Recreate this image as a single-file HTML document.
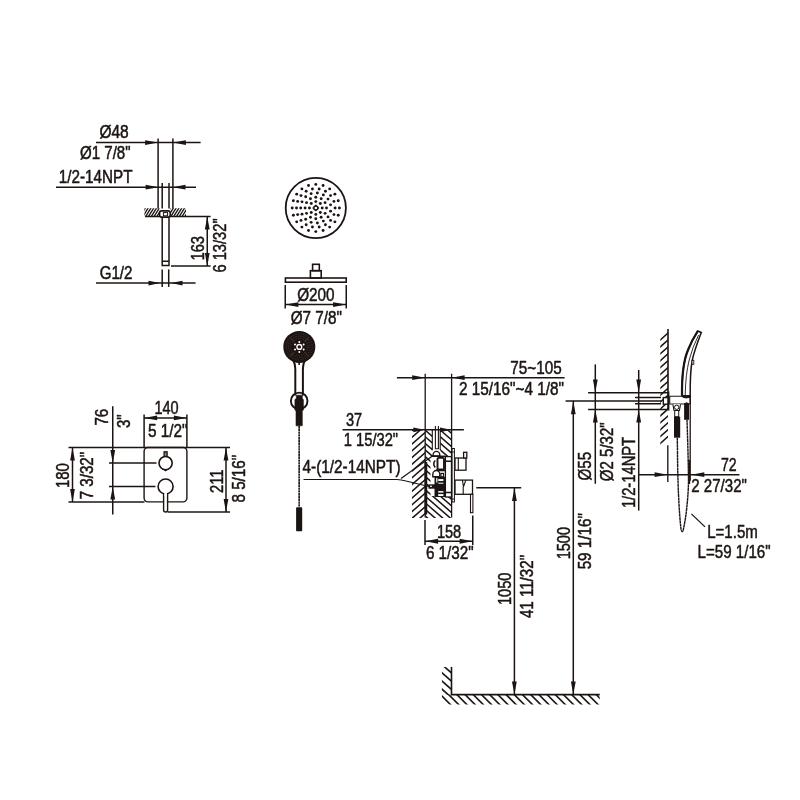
<!DOCTYPE html>
<html lang="en">
<head>
<meta charset="utf-8">
<title>Shower system dimensions</title>
<style>
html,body{margin:0;padding:0;background:#fff;}
body{width:800px;height:800px;overflow:hidden;}
svg{display:block;will-change:transform;opacity:0.999;}
svg text{font-family:"Liberation Sans","DejaVu Sans",sans-serif;fill:#1c1412;stroke:#1c1412;stroke-width:0.5px;stroke-linejoin:round;}
svg .ar,svg .dot{fill:#1c1412;stroke:none;}
svg .dk{fill:#1c1412;stroke:none;}
</style>
</head>
<body>
<svg width="800" height="800" viewBox="0 0 800 800">
<rect x="0" y="0" width="800" height="800" fill="#fff"/>
<g stroke="#1c1412" fill="none">
<line x1="158.10" y1="138.50" x2="158.10" y2="208.50" stroke-width="1.5" />
<line x1="172.90" y1="138.50" x2="172.90" y2="208.50" stroke-width="1.5" />
<line x1="96.00" y1="142.60" x2="200.60" y2="142.60" stroke-width="1.5" />
<polygon class="ar" points="158.10,142.60 145.10,145.00 145.10,140.20"/>
<polygon class="ar" points="172.90,142.60 185.90,140.20 185.90,145.00"/>
<text x="99.40" y="138.10" font-size="17.6" textLength="29.30" lengthAdjust="spacingAndGlyphs">Ø48</text>
<text x="80.00" y="158.75" font-size="17.6" textLength="50.60" lengthAdjust="spacingAndGlyphs">Ø1 7/8&quot;</text>
<text x="58.80" y="183.10" font-size="17.6" textLength="73.70" lengthAdjust="spacingAndGlyphs">1/2-14NPT</text>
<line x1="56.00" y1="187.20" x2="196.00" y2="187.20" stroke-width="1.5" />
<polygon class="ar" points="158.60,187.20 145.60,189.60 145.60,184.80"/>
<polygon class="ar" points="172.50,187.20 185.50,184.80 185.50,189.60"/>
<line x1="162.20" y1="183.00" x2="162.20" y2="208.50" stroke-width="1.5" />
<line x1="169.00" y1="183.00" x2="169.00" y2="208.50" stroke-width="1.5" />
<clipPath id="c1"><rect x="144.40" y="208.20" width="15.20" height="8.40"/></clipPath>
<g clip-path="url(#c1)" stroke-width="1.35">
<path d="M142.90 203.00L161.10 173.88M142.90 207.48L161.10 178.36M142.90 211.96L161.10 182.84M142.90 216.44L161.10 187.32M142.90 220.92L161.10 191.80M142.90 225.40L161.10 196.28M142.90 229.88L161.10 200.76M142.90 234.36L161.10 205.24M142.90 238.84L161.10 209.72M142.90 243.32L161.10 214.20M142.90 247.80L161.10 218.68M142.90 252.28L161.10 223.16"/>
</g>
<clipPath id="c2"><rect x="170.40" y="208.20" width="15.60" height="8.40"/></clipPath>
<g clip-path="url(#c2)" stroke-width="1.35">
<path d="M168.90 201.72L187.50 171.96M168.90 206.20L187.50 176.44M168.90 210.68L187.50 180.92M168.90 215.16L187.50 185.40M168.90 219.64L187.50 189.88M168.90 224.12L187.50 194.36M168.90 228.60L187.50 198.84M168.90 233.08L187.50 203.32M168.90 237.56L187.50 207.80M168.90 242.04L187.50 212.28M168.90 246.52L187.50 216.76M168.90 251.00L187.50 221.24"/>
</g>
<line x1="145.00" y1="216.50" x2="210.60" y2="216.50" stroke-width="1.5" />
<rect x="159.6" y="210.9" width="10.6" height="6.2" rx="2" stroke-width="1.6" fill="#fff"/>
<rect x="163.4" y="212.6" width="4.2" height="3.2" stroke-width="1.0" fill="#fff"/>
<path d="M162.2 217 V265.6 H169 V217" stroke-width="1.5" fill="none" />
<line x1="162.20" y1="261.25" x2="169.00" y2="261.25" stroke-width="1.5" />
<line x1="171.00" y1="265.90" x2="210.60" y2="265.90" stroke-width="1.5" />
<line x1="207.25" y1="216.50" x2="207.25" y2="265.90" stroke-width="1.5" />
<polygon class="ar" points="207.25,216.50 209.65,229.50 204.85,229.50"/>
<polygon class="ar" points="207.25,265.90 204.85,252.90 209.65,252.90"/>
<text transform="translate(203.85,260.60) rotate(-90)" x="0" y="0" font-size="18.200000000000003" textLength="24.70" lengthAdjust="spacingAndGlyphs">163</text>
<text transform="translate(225.70,272.50) rotate(-90)" x="0" y="0" font-size="18.200000000000003" textLength="54.10" lengthAdjust="spacingAndGlyphs">6 13/32&quot;</text>
<text x="99.65" y="279.00" font-size="17.6" textLength="32.85" lengthAdjust="spacingAndGlyphs">G1/2</text>
<line x1="96.00" y1="283.10" x2="195.60" y2="283.10" stroke-width="1.5" />
<polygon class="ar" points="160.00,283.10 148.50,285.50 148.50,280.70"/>
<polygon class="ar" points="171.00,283.10 182.50,280.70 182.50,285.50"/>
<line x1="162.20" y1="269.40" x2="162.20" y2="286.90" stroke-width="1.5" />
<line x1="168.70" y1="269.40" x2="168.70" y2="286.90" stroke-width="1.5" />
<line x1="68.50" y1="447.50" x2="230.00" y2="447.50" stroke-width="1.5" />
<line x1="68.50" y1="501.90" x2="144.50" y2="501.90" stroke-width="1.5" />
<rect x="144.1" y="447.5" width="42.8" height="54.4" rx="3.8" stroke-width="1.4"/>
<line x1="72.50" y1="447.50" x2="72.50" y2="501.90" stroke-width="1.5" />
<polygon class="ar" points="72.50,447.50 74.90,460.50 70.10,460.50"/>
<polygon class="ar" points="72.50,501.90 70.10,488.90 74.90,488.90"/>
<text transform="translate(68.60,488.10) rotate(-90)" x="0" y="0" font-size="18.200000000000003" textLength="24.95" lengthAdjust="spacingAndGlyphs">180</text>
<text transform="translate(93.10,499.35) rotate(-90)" x="0" y="0" font-size="18.200000000000003" textLength="47.45" lengthAdjust="spacingAndGlyphs">7 3/32&quot;</text>
<line x1="112.75" y1="406.25" x2="112.75" y2="514.40" stroke-width="1.5" />
<polygon class="ar" points="112.75,463.10 110.35,450.10 115.15,450.10"/>
<polygon class="ar" points="112.75,486.50 115.15,499.50 110.35,499.50"/>
<line x1="109.00" y1="463.10" x2="156.50" y2="463.10" stroke-width="1.5" />
<line x1="109.00" y1="486.50" x2="155.50" y2="486.50" stroke-width="1.5" />
<text transform="translate(108.20,425.60) rotate(-90)" x="0" y="0" font-size="18.200000000000003" textLength="16.80" lengthAdjust="spacingAndGlyphs">76</text>
<text transform="translate(129.50,428.10) rotate(-90)" x="0" y="0" font-size="18.200000000000003" textLength="13.70" lengthAdjust="spacingAndGlyphs">3&quot;</text>
<line x1="144.10" y1="414.40" x2="144.10" y2="447.50" stroke-width="1.5" />
<line x1="186.90" y1="414.40" x2="186.90" y2="447.50" stroke-width="1.5" />
<line x1="144.10" y1="417.90" x2="186.90" y2="417.90" stroke-width="1.5" />
<polygon class="ar" points="144.10,417.90 157.10,415.50 157.10,420.30"/>
<polygon class="ar" points="186.90,417.90 173.90,420.30 173.90,415.50"/>
<text x="154.40" y="413.75" font-size="17.6" textLength="24.20" lengthAdjust="spacingAndGlyphs">140</text>
<text x="147.90" y="436.50" font-size="17.6" textLength="39.70" lengthAdjust="spacingAndGlyphs">5 1/2&quot;</text>
<line x1="226.00" y1="447.50" x2="226.00" y2="511.90" stroke-width="1.5" />
<polygon class="ar" points="226.00,447.50 228.40,460.50 223.60,460.50"/>
<polygon class="ar" points="226.00,511.90 223.60,498.90 228.40,498.90"/>
<line x1="167.50" y1="511.90" x2="230.00" y2="511.90" stroke-width="1.5" />
<text transform="translate(223.20,493.10) rotate(-90)" x="0" y="0" font-size="18.200000000000003" textLength="23.70" lengthAdjust="spacingAndGlyphs">211</text>
<text transform="translate(244.90,502.50) rotate(-90)" x="0" y="0" font-size="18.200000000000003" textLength="47.60" lengthAdjust="spacingAndGlyphs">8 5/16&quot;</text>
<rect x="164.1" y="451.8" width="3" height="5.6" stroke-width="1.3" fill="#8a807d"/>
<path d="M163.2 468.8 L165.6 470.8 L168 468.8 Z" stroke-width="1.1" fill="#1c1412" />
<circle cx="165.6" cy="463.1" r="6.6" stroke-width="1.6" fill="#fff"/>
<path d="M163.6 493 V510 A2 2 0 0 0 167.6 510 V493" stroke-width="1.4" fill="#fff" />
<circle cx="165.6" cy="486.5" r="7.5" stroke-width="1.6" fill="#fff"/>
<rect x="164.3" y="492.6" width="2.6" height="3" stroke="none" fill="#fff"/>
<circle cx="315.8" cy="208.0" r="30.1" stroke-width="1.8"/>
<circle class="dot" cx="309.40" cy="208.00" r="1.45"/>
<circle class="dot" cx="311.27" cy="203.47" r="1.45"/>
<circle class="dot" cx="315.80" cy="201.60" r="1.45"/>
<circle class="dot" cx="320.33" cy="203.47" r="1.45"/>
<circle class="dot" cx="322.20" cy="208.00" r="1.45"/>
<circle class="dot" cx="320.33" cy="212.53" r="1.45"/>
<circle class="dot" cx="315.80" cy="214.40" r="1.45"/>
<circle class="dot" cx="311.27" cy="212.53" r="1.45"/>
<circle class="dot" cx="305.10" cy="208.00" r="1.45"/>
<circle class="dot" cx="306.53" cy="202.65" r="1.45"/>
<circle class="dot" cx="310.45" cy="198.73" r="1.45"/>
<circle class="dot" cx="315.80" cy="197.30" r="1.45"/>
<circle class="dot" cx="321.15" cy="198.73" r="1.45"/>
<circle class="dot" cx="325.07" cy="202.65" r="1.45"/>
<circle class="dot" cx="326.50" cy="208.00" r="1.45"/>
<circle class="dot" cx="325.07" cy="213.35" r="1.45"/>
<circle class="dot" cx="321.15" cy="217.27" r="1.45"/>
<circle class="dot" cx="315.80" cy="218.70" r="1.45"/>
<circle class="dot" cx="310.45" cy="217.27" r="1.45"/>
<circle class="dot" cx="306.53" cy="213.35" r="1.45"/>
<circle class="dot" cx="300.70" cy="208.00" r="1.45"/>
<circle class="dot" cx="302.01" cy="201.86" r="1.45"/>
<circle class="dot" cx="305.70" cy="196.78" r="1.45"/>
<circle class="dot" cx="311.13" cy="193.64" r="1.45"/>
<circle class="dot" cx="317.38" cy="192.98" r="1.45"/>
<circle class="dot" cx="323.35" cy="194.92" r="1.45"/>
<circle class="dot" cx="328.02" cy="199.12" r="1.45"/>
<circle class="dot" cx="330.57" cy="204.86" r="1.45"/>
<circle class="dot" cx="330.57" cy="211.14" r="1.45"/>
<circle class="dot" cx="328.02" cy="216.88" r="1.45"/>
<circle class="dot" cx="323.35" cy="221.08" r="1.45"/>
<circle class="dot" cx="317.38" cy="223.02" r="1.45"/>
<circle class="dot" cx="311.13" cy="222.36" r="1.45"/>
<circle class="dot" cx="305.70" cy="219.22" r="1.45"/>
<circle class="dot" cx="302.01" cy="214.14" r="1.45"/>
<circle class="dot" cx="296.50" cy="208.00" r="1.45"/>
<circle class="dot" cx="297.66" cy="201.40" r="1.45"/>
<circle class="dot" cx="301.02" cy="195.59" r="1.45"/>
<circle class="dot" cx="306.15" cy="191.29" r="1.45"/>
<circle class="dot" cx="312.45" cy="188.99" r="1.45"/>
<circle class="dot" cx="319.15" cy="188.99" r="1.45"/>
<circle class="dot" cx="325.45" cy="191.29" r="1.45"/>
<circle class="dot" cx="330.58" cy="195.59" r="1.45"/>
<circle class="dot" cx="333.94" cy="201.40" r="1.45"/>
<circle class="dot" cx="335.10" cy="208.00" r="1.45"/>
<circle class="dot" cx="333.94" cy="214.60" r="1.45"/>
<circle class="dot" cx="330.58" cy="220.41" r="1.45"/>
<circle class="dot" cx="325.45" cy="224.71" r="1.45"/>
<circle class="dot" cx="319.15" cy="227.01" r="1.45"/>
<circle class="dot" cx="312.45" cy="227.01" r="1.45"/>
<circle class="dot" cx="306.15" cy="224.71" r="1.45"/>
<circle class="dot" cx="301.02" cy="220.41" r="1.45"/>
<circle class="dot" cx="297.66" cy="214.60" r="1.45"/>
<circle class="dot" cx="292.20" cy="208.00" r="1.45"/>
<circle class="dot" cx="293.36" cy="200.71" r="1.45"/>
<circle class="dot" cx="296.71" cy="194.13" r="1.45"/>
<circle class="dot" cx="301.93" cy="188.91" r="1.45"/>
<circle class="dot" cx="308.51" cy="185.56" r="1.45"/>
<circle class="dot" cx="315.80" cy="184.40" r="1.45"/>
<circle class="dot" cx="323.09" cy="185.56" r="1.45"/>
<circle class="dot" cx="329.67" cy="188.91" r="1.45"/>
<circle class="dot" cx="334.89" cy="194.13" r="1.45"/>
<circle class="dot" cx="338.24" cy="200.71" r="1.45"/>
<circle class="dot" cx="339.40" cy="208.00" r="1.45"/>
<circle class="dot" cx="338.24" cy="215.29" r="1.45"/>
<circle class="dot" cx="334.89" cy="221.87" r="1.45"/>
<circle class="dot" cx="329.67" cy="227.09" r="1.45"/>
<circle class="dot" cx="323.09" cy="230.44" r="1.45"/>
<circle class="dot" cx="315.80" cy="231.60" r="1.45"/>
<circle class="dot" cx="308.51" cy="230.44" r="1.45"/>
<circle class="dot" cx="301.93" cy="227.09" r="1.45"/>
<circle class="dot" cx="296.71" cy="221.87" r="1.45"/>
<circle class="dot" cx="293.36" cy="215.29" r="1.45"/>
<circle cx="315.8" cy="208.0" r="2.0" stroke-width="1.5"/>
<circle class="dot" cx="318.40" cy="208.00" r="0.8"/>
<circle class="dot" cx="315.80" cy="210.60" r="0.8"/>
<circle class="dot" cx="313.20" cy="208.00" r="0.8"/>
<circle class="dot" cx="315.80" cy="205.40" r="0.8"/>
<rect x="285.4" y="278" width="60.8" height="4.2" stroke-width="1.6"/>
<rect x="310.4" y="270.7" width="10.8" height="7.3" stroke-width="1.6"/>
<rect x="312.6" y="264.3" width="6.7" height="6.4" stroke-width="1.6"/>
<line x1="285.25" y1="285.00" x2="285.25" y2="308.50" stroke-width="1.5" />
<line x1="346.25" y1="285.00" x2="346.25" y2="308.50" stroke-width="1.5" />
<line x1="285.25" y1="304.60" x2="346.25" y2="304.60" stroke-width="1.5" />
<polygon class="ar" points="285.40,304.60 298.40,302.20 298.40,307.00"/>
<polygon class="ar" points="346.10,304.60 333.10,307.00 333.10,302.20"/>
<text x="297.15" y="300.60" font-size="17.6" textLength="37.45" lengthAdjust="spacingAndGlyphs">Ø200</text>
<text x="290.65" y="323.75" font-size="17.6" textLength="51.20" lengthAdjust="spacingAndGlyphs">Ø7 7/8&quot;</text>
<path d="M293.2 360.5 Q295.3 363.5 295.3 369 V395.5 M305 360.5 Q302.9 363.5 302.9 369 V395.5" stroke-width="2.0" fill="none" />
<circle class="dk" cx="299.3" cy="346.9" r="16.0"/>
<line x1="304.60" y1="352.20" x2="308.85" y2="356.45" stroke="#5d4e4a" stroke-width="0.7"/>
<line x1="294.00" y1="352.20" x2="289.75" y2="356.45" stroke="#5d4e4a" stroke-width="0.7"/>
<line x1="294.00" y1="341.60" x2="289.75" y2="337.35" stroke="#5d4e4a" stroke-width="0.7"/>
<line x1="304.60" y1="341.60" x2="308.85" y2="337.35" stroke="#5d4e4a" stroke-width="0.7"/>
<circle cx="299.3" cy="346.9" r="8.6" stroke="#54443f" stroke-width="0.7" stroke-dasharray="1.2 1.4"/>
<circle cx="299.3" cy="346.9" r="10.8" stroke="#54443f" stroke-width="0.7" stroke-dasharray="1.2 1.4"/>
<circle cx="299.3" cy="346.9" r="13.0" stroke="#54443f" stroke-width="0.7" stroke-dasharray="1.2 1.4"/>
<circle cx="299.3" cy="346.9" r="2.4" fill="#1c1412" stroke="#fff" stroke-width="1.4"/>
<circle cx="299.30" cy="351.90" r="1.0" fill="#fff" stroke="none"/>
<circle cx="294.97" cy="349.40" r="1.0" fill="#fff" stroke="none"/>
<circle cx="294.97" cy="344.40" r="1.0" fill="#fff" stroke="none"/>
<circle cx="299.30" cy="341.90" r="1.0" fill="#fff" stroke="none"/>
<circle cx="303.63" cy="344.40" r="1.0" fill="#fff" stroke="none"/>
<circle cx="303.63" cy="349.40" r="1.0" fill="#fff" stroke="none"/>
<rect class="dk" x="298.3" y="362.6" width="1.6" height="2.4"/>
<circle cx="299.2" cy="400.9" r="8.3" stroke-width="1.9"/>
<path d="M296.3 395.2 H302.3 V398.6 L303.4 399.6 V409.8 L302.3 411.3 V425.8 H296 V411.3 L294.9 409.8 V399.6 L296.3 398.6 Z" stroke-width="0.6" fill="#1c1412" />
<line x1="299.15" y1="425.8" x2="299.15" y2="507.2" stroke-width="1.6" stroke-dasharray="2.4 0.4" />
<rect class="dk" x="296.1" y="507.2" width="6.1" height="24" rx="0.8"/>
<line x1="425.20" y1="373.75" x2="425.20" y2="517.50" stroke-width="1.3" />
<line x1="451.60" y1="373.75" x2="451.60" y2="517.50" stroke-width="1.3" />
<line x1="396.90" y1="377.70" x2="564.60" y2="377.70" stroke-width="1.5" />
<polygon class="ar" points="425.20,377.70 412.20,380.10 412.20,375.30"/>
<polygon class="ar" points="451.60,377.70 464.60,375.30 464.60,380.10"/>
<text x="510.30" y="373.60" font-size="17.6" textLength="51.40" lengthAdjust="spacingAndGlyphs">75~105</text>
<text x="459.00" y="394.60" font-size="17.6" textLength="105.00" lengthAdjust="spacingAndGlyphs">2 15/16&quot;~4 1/8&quot;</text>
<line x1="342.50" y1="429.80" x2="463.90" y2="429.80" stroke-width="1.5" />
<polygon class="ar" points="424.30,429.80 413.30,432.20 413.30,427.40"/>
<polygon class="ar" points="451.00,429.80 440.00,432.20 440.00,427.40"/>
<text x="345.90" y="426.00" font-size="17.6" textLength="16.20" lengthAdjust="spacingAndGlyphs">37</text>
<text x="343.80" y="445.60" font-size="17.6" textLength="54.30" lengthAdjust="spacingAndGlyphs">1 15/32&quot;</text>
<text x="302.50" y="473.10" font-size="17.6" textLength="98.10" lengthAdjust="spacingAndGlyphs">4-(1/2-14NPT)</text>
<path d="M303.5 479.5 H397 Q401 479.6 406 481 L433 487.5" stroke-width="1.2" fill="none" />
<path d="M401 478.6 L433.5 455.3" stroke-width="1.2" fill="none" />
<clipPath id="c3"><rect x="412.00" y="430.00" width="13.20" height="88.00"/></clipPath>
<g clip-path="url(#c3)" stroke-width="1.5">
<path d="M410.50 418.44L426.70 404.18M410.50 425.19L426.70 410.93M410.50 431.94L426.70 417.68M410.50 438.69L426.70 424.43M410.50 445.44L426.70 431.18M410.50 452.19L426.70 437.93M410.50 458.94L426.70 444.68M410.50 465.69L426.70 451.43M410.50 472.44L426.70 458.18M410.50 479.19L426.70 464.93M410.50 485.94L426.70 471.68M410.50 492.69L426.70 478.43M410.50 499.44L426.70 485.18M410.50 506.19L426.70 491.93M410.50 512.94L426.70 498.68M410.50 519.69L426.70 505.43M410.50 526.44L426.70 512.18M410.50 533.19L426.70 518.93M410.50 539.94L426.70 525.68"/>
</g>
<clipPath id="c4"><rect x="425.20" y="430.00" width="7.10" height="26.00"/></clipPath>
<g clip-path="url(#c4)" stroke-width="1.5">
<path d="M423.70 409.09L433.80 417.88M423.70 415.69L433.80 424.48M423.70 422.29L433.80 431.08M423.70 428.89L433.80 437.68M423.70 435.50L433.80 444.28M423.70 442.09L433.80 450.88M423.70 448.69L433.80 457.48M423.70 455.29L433.80 464.08M423.70 461.89L433.80 470.68M423.70 468.50L433.80 477.28"/>
</g>
<clipPath id="c5"><rect x="440.20" y="430.00" width="11.40" height="27.00"/></clipPath>
<g clip-path="url(#c5)" stroke-width="1.5">
<path d="M438.70 408.94L453.10 421.47M438.70 415.55L453.10 428.07M438.70 422.14L453.10 434.67M438.70 428.75L453.10 441.27M438.70 435.35L453.10 447.87M438.70 441.94L453.10 454.47M438.70 448.55L453.10 461.07M438.70 455.14L453.10 467.67M438.70 461.75L453.10 474.27M438.70 468.35L453.10 480.87"/>
</g>
<clipPath id="c6"><rect x="425.20" y="496.00" width="26.40" height="22.00"/></clipPath>
<g clip-path="url(#c6)" stroke-width="1.5">
<path d="M423.70 461.89L453.10 487.47M423.70 468.50L453.10 494.07M423.70 475.09L453.10 500.67M423.70 481.69L453.10 507.27M423.70 488.29L453.10 513.87M423.70 494.89L453.10 520.47M423.70 501.50L453.10 527.07M423.70 508.09L453.10 533.67M423.70 514.69L453.10 540.27M423.70 521.29L453.10 546.87M423.70 527.89L453.10 553.47"/>
</g>
<clipPath id="c7"><rect x="425.20" y="456.00" width="5.30" height="40.00"/></clipPath>
<g clip-path="url(#c7)" stroke-width="1.5">
<path d="M423.70 442.09L432.00 449.32M423.70 448.69L432.00 455.92M423.70 455.29L432.00 462.52M423.70 461.89L432.00 469.12M423.70 468.50L432.00 475.72M423.70 475.09L432.00 482.32M423.70 481.69L432.00 488.92M423.70 488.29L432.00 495.52M423.70 494.89L432.00 502.12M423.70 501.50L432.00 508.72M423.70 508.09L432.00 515.32"/>
</g>
<path d="M432.3 430 V450 M440.2 430 V450 M435.4 426 V448.7 H438.4 V426" stroke-width="1.1" fill="none" />
<g stroke-width="1.3">
<rect x="445.4" y="456.6" width="6.1" height="40.4" fill="#fff"/>
<path d="M445.4 461.3 H451.4 M445.4 492.5 H451.4" stroke-width="1.5" fill="none" />
<path d="M433.1 456 V455 A3.35 3.6 0 0 1 439.8 455 V456 Z" stroke-width="1.3" fill="#fff" />
<path d="M431 456.3 H445.4" stroke-width="1.5" fill="none" />
<path d="M435.2 460.6 Q432.2 464 435.2 467.4" stroke-width="1.5" fill="none" />
<rect x="437.5" y="457.9" width="6.5" height="11.6" rx="1.2" fill="#fff" stroke-width="1.9"/>
<rect class="dk" x="434.5" y="476.8" width="10.9" height="20.2"/>
<rect class="dk" x="436" y="469.3" width="9" height="2"/>
<path d="M432.8 476.8 V474.5 A3.5 4 0 0 1 439.8 474.5 V476.8 Z" stroke-width="1.4" fill="#fff" />
<rect x="440.9" y="473.4" width="2.6" height="3.4" fill="#fff" stroke-width="1.2"/>
<rect class="dk" x="428.5" y="484.3" width="9" height="4.4"/>
<rect x="430.2" y="485.6" width="1.6" height="1.4" fill="#fff" stroke="none"/>
<rect x="438.2" y="479.1" width="5.2" height="1.9" fill="#fff" stroke="none"/>
<rect x="438.2" y="482.7" width="5.2" height="1.0" fill="#fff" stroke="none"/>
<rect x="438.2" y="491.1" width="5.2" height="1.5" fill="#fff" stroke="none"/>
<rect x="438.2" y="494.1" width="5.2" height="1.9" fill="#fff" stroke="none"/>
<rect x="436.2" y="478" width="1.2" height="4.5" fill="#fff" stroke="none"/>
</g>
<line x1="425.90" y1="462.00" x2="425.90" y2="514.50" stroke-width="2.7" />
<rect x="452.1" y="448.5" width="2.3" height="53.5" stroke-width="1.0" fill="#fff"/>
<path d="M452.1 452 H454.4 M452.1 499 H454.4" stroke-width="0.9" fill="none" />
<rect x="455" y="458" width="11" height="12.2" stroke-width="1.3" fill="#fff"/>
<line x1="458.30" y1="458.00" x2="458.30" y2="470.20" stroke-width="1.1" />
<rect x="463.6" y="452.3" width="3.2" height="5.7" stroke-width="1.3" fill="#fff"/>
<rect x="455" y="480.1" width="17.5" height="14.2" stroke-width="1.3" fill="#fff"/>
<path d="M462.4 480.1 L463.5 486.8 L465.8 480.1 M463.2 486.8 V494.3" stroke-width="1.1" fill="none" />
<rect x="470.5" y="494.3" width="2.4" height="18.4" stroke-width="1.1" fill="#fff"/>
<line x1="425.00" y1="520.00" x2="425.00" y2="545.00" stroke-width="1.5" />
<line x1="472.75" y1="515.60" x2="472.75" y2="545.00" stroke-width="1.5" />
<line x1="425.00" y1="541.25" x2="472.75" y2="541.25" stroke-width="1.5" />
<polygon class="ar" points="425.10,541.25 438.10,538.85 438.10,543.65"/>
<polygon class="ar" points="472.60,541.25 459.60,543.65 459.60,538.85"/>
<text x="436.90" y="537.50" font-size="17.6" textLength="24.30" lengthAdjust="spacingAndGlyphs">158</text>
<text x="425.90" y="559.00" font-size="17.6" textLength="47.80" lengthAdjust="spacingAndGlyphs">6 1/32&quot;</text>
<line x1="476.25" y1="487.75" x2="521.25" y2="487.75" stroke-width="1.5" />
<line x1="514.40" y1="487.75" x2="514.40" y2="694.60" stroke-width="1.5" />
<polygon class="ar" points="514.40,487.90 516.80,500.90 512.00,500.90"/>
<polygon class="ar" points="514.40,694.40 512.00,681.40 516.80,681.40"/>
<text transform="translate(510.70,605.00) rotate(-90)" x="0" y="0" font-size="18.200000000000003" textLength="32.50" lengthAdjust="spacingAndGlyphs">1050</text>
<text transform="translate(533.20,618.10) rotate(-90)" x="0" y="0" font-size="18.200000000000003" textLength="63.10" lengthAdjust="spacingAndGlyphs">41 11/32&quot;</text>
<line x1="565.60" y1="401.00" x2="661.00" y2="401.00" stroke-width="1.5" />
<line x1="573.30" y1="401.00" x2="573.30" y2="694.60" stroke-width="1.5" />
<polygon class="ar" points="573.30,401.20 575.70,414.20 570.90,414.20"/>
<polygon class="ar" points="573.30,694.40 570.90,681.40 575.70,681.40"/>
<text transform="translate(569.50,559.35) rotate(-90)" x="0" y="0" font-size="18.200000000000003" textLength="32.45" lengthAdjust="spacingAndGlyphs">1500</text>
<text transform="translate(591.10,569.35) rotate(-90)" x="0" y="0" font-size="18.200000000000003" textLength="56.20" lengthAdjust="spacingAndGlyphs">59 1/16&quot;</text>
<line x1="451.50" y1="666.90" x2="451.50" y2="694.60" stroke-width="1.6" />
<line x1="450.80" y1="694.60" x2="599.75" y2="694.60" stroke-width="1.7" />
<clipPath id="fl"><rect x="441.9" y="694.6" width="157.9" height="9.8"/></clipPath><g clip-path="url(#fl)">
<line x1="439.50" y1="693.60" x2="452.50" y2="706.60" stroke-width="1.6" />
<line x1="447.70" y1="693.60" x2="460.70" y2="706.60" stroke-width="1.6" />
<line x1="455.90" y1="693.60" x2="468.90" y2="706.60" stroke-width="1.6" />
<line x1="464.10" y1="693.60" x2="477.10" y2="706.60" stroke-width="1.6" />
<line x1="472.30" y1="693.60" x2="485.30" y2="706.60" stroke-width="1.6" />
<line x1="480.50" y1="693.60" x2="493.50" y2="706.60" stroke-width="1.6" />
<line x1="488.70" y1="693.60" x2="501.70" y2="706.60" stroke-width="1.6" />
<line x1="496.90" y1="693.60" x2="509.90" y2="706.60" stroke-width="1.6" />
<line x1="505.10" y1="693.60" x2="518.10" y2="706.60" stroke-width="1.6" />
<line x1="513.30" y1="693.60" x2="526.30" y2="706.60" stroke-width="1.6" />
<line x1="521.50" y1="693.60" x2="534.50" y2="706.60" stroke-width="1.6" />
<line x1="529.70" y1="693.60" x2="542.70" y2="706.60" stroke-width="1.6" />
<line x1="537.90" y1="693.60" x2="550.90" y2="706.60" stroke-width="1.6" />
<line x1="546.10" y1="693.60" x2="559.10" y2="706.60" stroke-width="1.6" />
<line x1="554.30" y1="693.60" x2="567.30" y2="706.60" stroke-width="1.6" />
<line x1="562.50" y1="693.60" x2="575.50" y2="706.60" stroke-width="1.6" />
<line x1="570.70" y1="693.60" x2="583.70" y2="706.60" stroke-width="1.6" />
<line x1="578.90" y1="693.60" x2="591.90" y2="706.60" stroke-width="1.6" />
<line x1="587.10" y1="693.60" x2="600.10" y2="706.60" stroke-width="1.6" />
<line x1="595.30" y1="693.60" x2="608.30" y2="706.60" stroke-width="1.6" />
<line x1="603.50" y1="693.60" x2="616.50" y2="706.60" stroke-width="1.6" />
</g>
<clipPath id="wl"><rect x="441.9" y="667" width="9.6" height="28"/></clipPath><g clip-path="url(#wl)">
<line x1="440.90" y1="663.62" x2="452.50" y2="673.88" stroke-width="1.6" />
<line x1="440.90" y1="671.82" x2="452.50" y2="682.08" stroke-width="1.6" />
<line x1="440.90" y1="680.01" x2="452.50" y2="690.28" stroke-width="1.6" />
<line x1="440.90" y1="688.22" x2="452.50" y2="698.48" stroke-width="1.6" />
</g>
<line x1="588.10" y1="392.75" x2="668.00" y2="392.75" stroke-width="1.5" />
<line x1="588.10" y1="409.40" x2="668.00" y2="409.40" stroke-width="1.5" />
<line x1="635.00" y1="397.50" x2="661.00" y2="397.50" stroke-width="1.5" />
<line x1="635.00" y1="403.75" x2="661.00" y2="403.75" stroke-width="1.5" />
<line x1="595.30" y1="364.40" x2="595.30" y2="483.75" stroke-width="1.5" />
<polygon class="ar" points="595.30,392.60 592.90,379.60 597.70,379.60"/>
<polygon class="ar" points="595.30,409.60 597.70,422.60 592.90,422.60"/>
<line x1="638.70" y1="370.00" x2="638.70" y2="510.60" stroke-width="1.5" />
<polygon class="ar" points="638.70,392.60 636.30,379.60 641.10,379.60"/>
<polygon class="ar" points="638.70,409.60 641.10,422.60 636.30,422.60"/>
<text transform="translate(590.70,480.60) rotate(-90)" x="0" y="0" font-size="18.200000000000003" textLength="28.70" lengthAdjust="spacingAndGlyphs">Ø55</text>
<text transform="translate(612.60,481.20) rotate(-90)" x="0" y="0" font-size="18.200000000000003" textLength="58.80" lengthAdjust="spacingAndGlyphs">Ø2 5/32&quot;</text>
<text transform="translate(635.30,508.10) rotate(-90)" x="0" y="0" font-size="18.200000000000003" textLength="71.20" lengthAdjust="spacingAndGlyphs">1/2-14NPT</text>
<line x1="668.00" y1="329.00" x2="668.00" y2="410.00" stroke-width="1.6" />
<clipPath id="c8"><rect x="660.30" y="328.00" width="7.70" height="117.00"/></clipPath>
<g clip-path="url(#c8)" stroke-width="1.5">
<path d="M658.80 341.29L669.50 331.77M658.80 348.19L669.50 338.67M658.80 355.09L669.50 345.57M658.80 361.99L669.50 352.47M658.80 368.89L669.50 359.37M658.80 375.79L669.50 366.27M658.80 382.69L669.50 373.17M658.80 389.59L669.50 380.07M658.80 396.49L669.50 386.97M658.80 403.39L669.50 393.87M658.80 410.29L669.50 400.77M658.80 417.19L669.50 407.67M658.80 424.09L669.50 414.57M658.80 430.99L669.50 421.47M658.80 437.89L669.50 428.37M658.80 444.79L669.50 435.27"/>
</g>
<line x1="667.80" y1="445.30" x2="667.80" y2="482.00" stroke-width="1.35" />
<rect x="663.3" y="397.6" width="4.7" height="6.6" stroke-width="1.4" fill="#fff"/>
<line x1="668.60" y1="391.50" x2="668.60" y2="410.50" stroke-width="1.6" />
<path d="M669.7 396.2 H682 Q686 399 690.2 396.2 V404 H669.7 Z" stroke-width="1.1" fill="#fff" />
<path d="M697.8 331 L701.3 332.5 Q694.5 350 692.3 360 Q690 372 690.2 395.6 L682 395.8 Q681.6 365 688 350 Q692 340 697.8 331 Z" stroke-width="1.5" fill="#fff" />
<path d="M697.8 331 Q692 340 688 350 Q681.6 365 682 395.8" stroke-width="2.2" fill="none" />
<path d="M698.6 335 Q692.5 347 689.2 360 Q685.6 374 685.2 395" stroke-width="0.9" fill="none" />
<rect x="692" y="360.3" width="1.8" height="4" stroke-width="0.9" fill="#fff"/>
<path d="M682 395.6 Q686 399 690.2 395.6" stroke-width="2.0" fill="none" />
<line x1="690.20" y1="396.00" x2="690.20" y2="480.70" stroke-width="1.3" />
<path d="M672.9 404.3 L674 410.5 H679.4 L680.5 404.3" stroke-width="1.1" fill="#fff" />
<circle cx="676.7" cy="407.3" r="2.2" stroke-width="1"/>
<rect x="674.7" y="410.5" width="4" height="6.2" stroke-width="1" fill="#fff"/>
<rect class="dk" x="674" y="416.7" width="6.2" height="21"/>
<rect class="dk" x="684.1" y="404" width="4.9" height="15.8"/>
<path d="M684.1 404 Q686.5 401.5 689 404" stroke-width="1.0" fill="#1c1412" />
<path d="M677.3 437.7 L677.7 470 L678.3 490 Q679.6 519 681.1 529.3 Q682.25 534 683.4 529.3 Q685.2 521 686.25 512.5 Q688.6 492 688.5 478.75 Q688.2 455 687 419.8" stroke-width="1.4" fill="none" stroke-dasharray="3 0.3" stroke-linejoin="round"/>
<line x1="639.00" y1="474.70" x2="690.00" y2="474.70" stroke-width="1.5" />
<polygon class="ar" points="667.60,474.70 654.60,477.10 654.60,472.30"/>
<line x1="690.50" y1="474.70" x2="739.40" y2="474.70" stroke-width="1.5" />
<polygon class="ar" points="691.30,474.70 704.30,472.30 704.30,477.10"/>
<line x1="689.30" y1="460.00" x2="689.30" y2="484.00" stroke-width="1.8" />
<text x="720.90" y="470.60" font-size="17.6" textLength="15.70" lengthAdjust="spacingAndGlyphs">72</text>
<text x="691.30" y="491.90" font-size="17.6" textLength="55.55" lengthAdjust="spacingAndGlyphs">2 27/32&quot;</text>
<line x1="691.40" y1="513.90" x2="705.00" y2="526.90" stroke-width="1.3" />
<text x="707.15" y="537.50" font-size="17.6" textLength="50.70" lengthAdjust="spacingAndGlyphs">L=1.5m</text>
<text x="697.50" y="557.50" font-size="17.6" textLength="73.10" lengthAdjust="spacingAndGlyphs">L=59 1/16&quot;</text>
</g>
</svg>
</body>
</html>
